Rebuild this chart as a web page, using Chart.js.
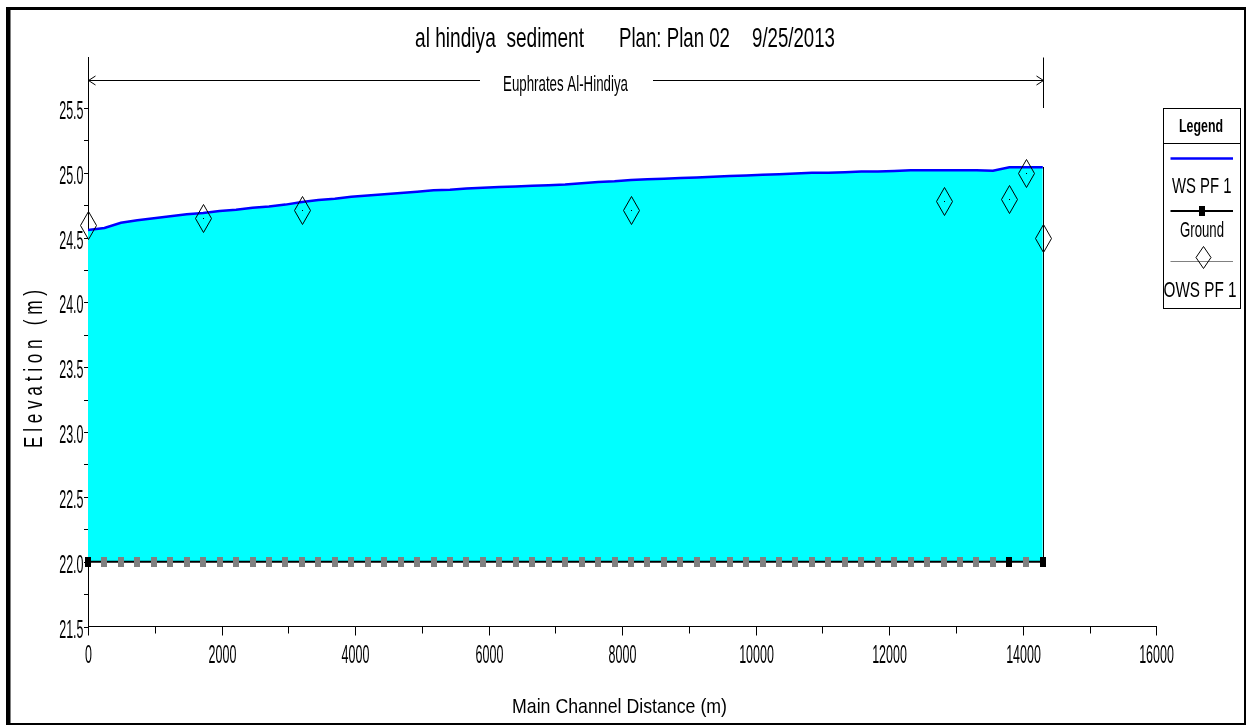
<!DOCTYPE html>
<html>
<head>
<meta charset="utf-8">
<title>al hindiya sediment - profile</title>
<script src="https://cdn.jsdelivr.net/npm/chart.js@4.4.1/dist/chart.umd.min.js"></script>
<style>
  html, body { margin: 0; padding: 0; background: #fff; }
  canvas { display: block; }
</style>
</head>
<body>
<canvas id="profile" width="1249" height="726"></canvas>
<script>
// Water surface profile along the Euphrates, Al-Hindiya reach.

const titleParts  = ["al hindiya  sediment", "Plan: Plan 02", "9/25/2013"];
const reachName   = "Euphrates Al-Hindiya";
const seriesNames = ["WS PF 1", "Ground", "OWS PF 1"];
const xAxisTitle  = "Main Channel Distance (m)";
const yAxisTitle  = "E l e v a t i o n   ( m )";

// main channel distance of each section (m)
const stations = [
  0, 246, 493, 739, 986, 1232, 1479, 1725, 1971, 2218,
  2464, 2711, 2957, 3204, 3450, 3696, 3943, 4189, 4436, 4682,
  4929, 5175, 5421, 5668, 5914, 6161, 6407, 6654, 6900, 7146,
  7393, 7639, 7886, 8132, 8379, 8625, 8871, 9118, 9364, 9611,
  9857, 10104, 10350, 10596, 10843, 11089, 11336, 11582, 11829, 12075,
  12321, 12568, 12814, 13061, 13307, 13554, 13800, 14050, 14300
];
// computed water surface, PF 1 (m)
const wsElev = [
  24.56, 24.575, 24.615, 24.635, 24.65, 24.665, 24.68, 24.69, 24.705, 24.715,
  24.73, 24.74, 24.755, 24.775, 24.79, 24.80, 24.815, 24.825, 24.835, 24.845,
  24.855, 24.865, 24.87, 24.88, 24.885, 24.89, 24.895, 24.90, 24.905, 24.91,
  24.92, 24.93, 24.935, 24.945, 24.95, 24.955, 24.96, 24.965, 24.97, 24.975,
  24.98, 24.985, 24.99, 24.995, 25.0, 25.0, 25.005, 25.01, 25.01, 25.015,
  25.02, 25.02, 25.02, 25.02, 25.02, 25.017, 25.043, 25.043, 25.043
];
// channel bed (m)
const groundElev = [
  22.0, 22.0, 22.0, 22.0, 22.0, 22.0, 22.0, 22.0, 22.0, 22.0,
  22.0, 22.0, 22.0, 22.0, 22.0, 22.0, 22.0, 22.0, 22.0, 22.0,
  22.0, 22.0, 22.0, 22.0, 22.0, 22.0, 22.0, 22.0, 22.0, 22.0,
  22.0, 22.0, 22.0, 22.0, 22.0, 22.0, 22.0, 22.0, 22.0, 22.0,
  22.0, 22.0, 22.0, 22.0, 22.0, 22.0, 22.0, 22.0, 22.0, 22.0,
  22.0, 22.0, 22.0, 22.0, 22.0, 22.0, 22.0, 22.0, 22.0
];
// surveyed sections; the rest are interpolated
const surveyedStations = [0, 13800, 14300];

// observed water surface (m)
const obsDist = [0, 1725, 3204, 8132, 12814, 13800, 14050, 14300];
const obsElev = [24.60, 24.65, 24.71, 24.71, 24.78, 24.80, 25.00, 24.50];

const xTicks      = [0, 2000, 4000, 6000, 8000, 10000, 12000, 14000, 16000];
const xTickLabels = ["0", "2000", "4000", "6000", "8000", "10000", "12000", "14000", "16000"];
const xMinorTicks = [1000, 3000, 5000, 7000, 9000, 11000, 13000, 15000];
const yTicks      = [21.5, 22.0, 22.5, 23.0, 23.5, 24.0, 24.5, 25.0, 25.5];
const yTickLabels = ["21.5", "22.0", "22.5", "23.0", "23.5", "24.0", "24.5", "25.0", "25.5"];
const yMinorTicks = [21.75, 22.25, 22.75, 23.25, 23.75, 24.25, 24.75, 25.25];

const FONT = '"Liberation Sans", Arial, sans-serif';
const WATER = "#00FFFF";
const WS_BLUE = "#0000FF";
const GRAY = "#808080";

// text squeezed horizontally to a given width, left aligned on the baseline
function fitText(ctx, text, x, y, size, width, bold) {
  ctx.save();
  ctx.font = (bold ? "bold " : "") + size + "px " + FONT;
  const w = ctx.measureText(text).width;
  ctx.translate(x, y);
  ctx.scale(width / w, 1);
  ctx.textAlign = "left";
  ctx.textBaseline = "alphabetic";
  ctx.fillStyle = "#000";
  ctx.fillText(text, 0, 0);
  ctx.restore();
}

// narrow tick label text
function narrowText(ctx, text, x, y, size, sx, align) {
  ctx.save();
  ctx.font = size + "px " + FONT;
  ctx.translate(x, y);
  ctx.scale(sx, 1);
  ctx.textAlign = align;
  ctx.textBaseline = "alphabetic";
  ctx.fillStyle = "#000";
  ctx.fillText(text, 0, 0);
  ctx.restore();
}

function line(ctx, x1, y1, x2, y2, color, width) {
  ctx.beginPath();
  ctx.strokeStyle = color;
  ctx.lineWidth = width;
  ctx.moveTo(x1, y1);
  ctx.lineTo(x2, y2);
  ctx.stroke();
}

function diamond(ctx, cx, cy, hw, hh, dot) {
  ctx.beginPath();
  ctx.strokeStyle = "#000";
  ctx.lineWidth = 1;
  ctx.moveTo(cx, cy - hh);
  ctx.lineTo(cx + hw, cy);
  ctx.lineTo(cx, cy + hh);
  ctx.lineTo(cx - hw, cy);
  ctx.closePath();
  ctx.stroke();
  if (dot) {
    ctx.fillStyle = "#000";
    ctx.fillRect(cx - 0.5, cy - 0.5, 1, 1);
  }
}

const whiteBackground = {
  id: "whiteBackground",
  beforeDraw(chart) {
    const ctx = chart.ctx;
    ctx.save();
    ctx.fillStyle = "#fff";
    ctx.fillRect(0, 0, chart.width, chart.height);
    ctx.restore();
  }
};

// section markers, observed points and the end bank, snapped to whole pixels
const profileMarks = {
  id: "profileMarks",
  afterDatasetsDraw(chart) {
    const ctx = chart.ctx;
    const byLabel = label => chart.getDatasetMeta(chart.data.datasets.findIndex(d => d.label === label));
    ctx.save();

    const bank = byLabel("bank").data;
    const bx = Math.round(bank[0].x) + 0.5;
    line(ctx, bx, Math.round(bank[0].y), bx, Math.round(bank[1].y), "#000", 1);

    byLabel(seriesNames[1]).data.forEach((el, i) => {
      ctx.fillStyle = surveyedStations.includes(stations[i]) ? "#000" : GRAY;
      ctx.fillRect(Math.round(el.x) - 3, Math.round(el.y) - 5, 6, 10);
    });

    byLabel(seriesNames[2]).data.forEach(el => {
      diamond(ctx, Math.round(el.x) + 0.5, Math.round(el.y) + 0.5, 8, 14, true);
    });
    ctx.restore();
  }
};

// ticks, tick labels, axis titles, title, reach bar, legend and frame
const profileDecor = {
  id: "profileDecor",
  afterDraw(chart) {
    const ctx = chart.ctx;
    const xs = chart.scales.x, ys = chart.scales.y;
    const area = chart.chartArea;
    ctx.save();

    // x ticks
    xTicks.forEach((v, i) => {
      const px = Math.round(xs.getPixelForValue(v)) + 0.5;
      line(ctx, px, area.bottom, px, area.bottom + 9, "#000", 1);
      narrowText(ctx, xTickLabels[i], px, area.bottom + 36, 26, 0.48, "center");
    });
    xMinorTicks.forEach(v => {
      const px = Math.round(xs.getPixelForValue(v)) + 0.5;
      line(ctx, px, area.bottom, px, area.bottom + 7, "#000", 1);
    });

    // y ticks
    yTicks.forEach((v, i) => {
      const py = Math.round(ys.getPixelForValue(v)) + 0.5;
      line(ctx, area.left - 4, py, area.left, py, "#000", 1);
      narrowText(ctx, yTickLabels[i], area.left - 4.5, py + 10, 25.5, 0.49, "right");
    });
    yMinorTicks.forEach(v => {
      const py = Math.round(ys.getPixelForValue(v)) + 0.5;
      line(ctx, area.left - 4, py, area.left, py, "#000", 1);
    });

    // axis titles
    fitText(ctx, xAxisTitle, 512, 713, 21, 215, false);
    ctx.save();
    ctx.translate(42, 448);
    ctx.rotate(-Math.PI / 2);
    fitText(ctx, yAxisTitle, 0, 0, 25, 158, false);
    ctx.restore();

    // title
    fitText(ctx, titleParts[0], 415, 46.5, 28, 169, false);
    fitText(ctx, titleParts[1], 619, 46.5, 28, 111, false);
    fitText(ctx, titleParts[2], 752, 46.5, 28, 83, false);

    // reach extent bar
    const r0 = Math.round(xs.getPixelForValue(stations[0])) + 0.5;
    const r1 = Math.round(xs.getPixelForValue(stations[stations.length - 1])) + 0.5;
    const ry = 80.5;
    line(ctx, r0, ry, 480, ry, "#000", 1);
    line(ctx, 653, ry, r1, ry, "#000", 1);
    line(ctx, r0 + 7, ry - 4.5, r0, ry, "#000", 1);
    line(ctx, r0, ry, r0 + 7, ry + 4.5, "#000", 1);
    line(ctx, r1 - 7, ry - 4.5, r1, ry, "#000", 1);
    line(ctx, r1, ry, r1 - 7, ry + 4.5, "#000", 1);
    line(ctx, r0, area.top, r0, 108, "#000", 1);
    line(ctx, r1, area.top, r1, 108, "#000", 1);
    fitText(ctx, reachName, 503, 91, 22, 125, false);

    // legend
    ctx.strokeStyle = "#000";
    ctx.lineWidth = 1;
    ctx.strokeRect(1163.5, 108.5, 77, 200);
    line(ctx, 1163, 143.5, 1241, 143.5, "#000", 1);
    fitText(ctx, "Legend", 1179, 131.5, 19, 44, true);

    const ws = chart.data.datasets.find(d => d.label === seriesNames[0]);
    const gr = chart.data.datasets.find(d => d.label === seriesNames[1]);
    line(ctx, 1170.5, 158.5, 1233, 158.5, ws.borderColor, ws.borderWidth);
    fitText(ctx, seriesNames[0], 1172, 193.3, 22, 59.5, false);

    line(ctx, 1170.5, 211, 1233, 211, gr.borderColor, gr.borderWidth);
    ctx.fillStyle = "#000";
    ctx.fillRect(1199, 206, 6, 10);
    fitText(ctx, seriesNames[1], 1180, 236.7, 22, 44, false);

    line(ctx, 1170.5, 261.5, 1233, 261.5, GRAY, 1);
    diamond(ctx, 1203.5, 257.5, 7.5, 11, false);
    fitText(ctx, seriesNames[2], 1163.5, 296.7, 22, 73, false);

    // frame
    ctx.fillStyle = "#000";
    ctx.fillRect(6, 7, 4.5, 718);
    ctx.fillRect(6, 7, 1240, 3);
    ctx.fillRect(1244, 7, 2, 718);
    ctx.fillRect(6, 723, 1240, 2);

    ctx.restore();
  }
};

const wsPoints     = stations.map((d, i) => ({ x: d, y: wsElev[i] }));
const groundPoints = stations.map((d, i) => ({ x: d, y: groundElev[i] }));
const obsPoints    = obsDist.map((d, i) => ({ x: d, y: obsElev[i] }));
const last = stations.length - 1;
const endBank = [
  { x: stations[last], y: groundElev[last] },
  { x: stations[last], y: wsElev[last] }
];

new Chart(document.getElementById("profile"), {
  type: "line",
  data: {
    datasets: [
      {
        label: seriesNames[2],
        data: obsPoints,
        showLine: false,
        pointRadius: 0
      },
      {
        label: seriesNames[1],
        data: groundPoints,
        borderColor: "#000",
        borderWidth: 2,
        pointRadius: 0
      },
      {
        label: seriesNames[0],
        data: wsPoints,
        borderColor: WS_BLUE,
        borderWidth: 2.5,
        backgroundColor: WATER,
        fill: { value: 22 },
        pointRadius: 0,
        tension: 0
      },
      {
        label: "bank",
        data: endBank,
        showLine: false,
        pointRadius: 0,
        fill: false
      }
    ]
  },
  options: {
    responsive: false,
    animation: false,
    devicePixelRatio: 1,
    events: [],
    layout: { padding: { left: 88, right: 92.7, top: 57.5, bottom: 99.5 } },
    plugins: {
      legend: { display: false },
      tooltip: { enabled: false },
      title: { display: false }
    },
    scales: {
      x: {
        type: "linear",
        min: 0,
        max: 16000,
        ticks: { display: false },
        grid: { drawOnChartArea: false, drawTicks: false },
        border: { color: "#000", width: 1 },
        afterFit: s => { s.height = 0; }
      },
      y: {
        type: "linear",
        min: 21.5,
        max: 25.89,
        ticks: { display: false },
        grid: { drawOnChartArea: false, drawTicks: false },
        border: { color: "#000", width: 1 },
        afterFit: s => { s.width = 0; }
      }
    }
  },
  plugins: [whiteBackground, profileMarks, profileDecor]
});
</script>
</body>
</html>
